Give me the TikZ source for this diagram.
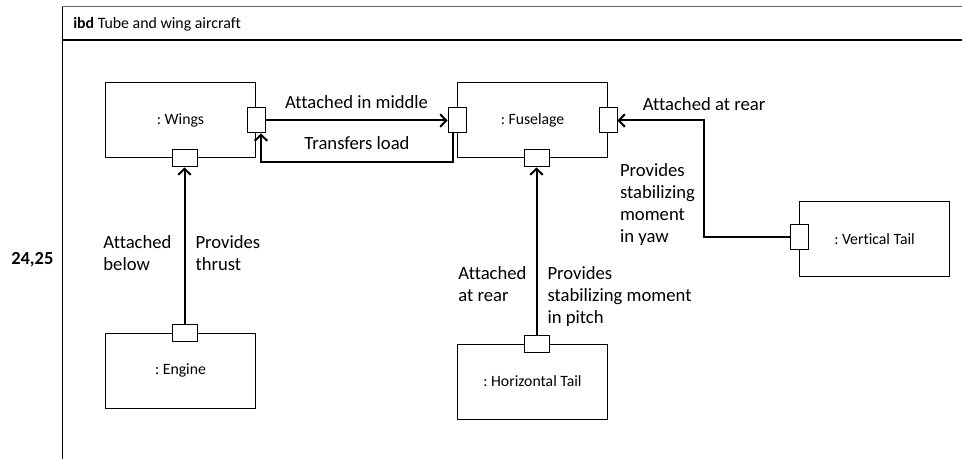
\documentclass[tikz,border=0pt]{standalone}
\usepackage{fontspec}
\setmainfont{Carlito}[Ligatures=NoCommon]
\usetikzlibrary{arrows.meta}
\usetikzlibrary{positioning}
\frenchspacing

\begin{document}
\begin{tikzpicture}[
  x=0.75pt,y=-0.75pt,
  part/.style={draw,line width=0.75pt,minimum width=112.5pt,minimum height=56.25pt,inner sep=0pt,font=\fontsize{11.8}{14}\selectfont},
  vport/.style={draw,fill=white,line width=0.75pt,minimum width=13.5pt,minimum height=18.75pt,inner sep=0pt},
  hport/.style={draw,fill=white,line width=0.75pt,minimum width=18.75pt,minimum height=12.75pt,inner sep=0pt},
  conn/.style={line width=1.5pt,-{Straight Barb[length=4.5pt,width=9.5pt]}},
  lbl/.style={font=\fontsize{14}{16.5}\selectfont,align=left,inner sep=0pt}]
\useasboundingbox (0,0) rectangle (962,459);
\draw[line width=0.75pt] (62,459) -- (62,7.5);
\draw[line width=0.75pt,black!60] (62,7) -- (962,7);
\draw[line width=1pt] (62,40) -- (962,40);
\node[anchor=west,inner sep=0pt,font=\fontsize{11.9}{14}\selectfont] (title) at (73,24) {\textbf{ibd} Tube and wing aircraft};
\node[anchor=west,inner sep=0pt,font=\fontsize{13.8}{16}\selectfont\bfseries] (sheet) at (11,260) {24,25};
\node[part] (wings) at (180.5,120.5) {: Wings};
\node[part,right=150.75pt of wings] (fuselage) {: Fuselage};
\node[part,below=130.5pt of wings] (engine) {: Engine};
\node[part,below=138.75pt of fuselage] (htail) {: Horizontal Tail};
\node[part,below right=32.25pt and 143.25pt of fuselage] (vtail) {: Vertical Tail};
\node[vport] (wr) at (wings.east) {};
\node[hport] (wb) at ([xshift=3pt]wings.south) {};
\node[vport] (fl) at (fuselage.west) {};
\node[vport] (fr) at (fuselage.east) {};
\node[hport] (fb) at ([xshift=3pt]fuselage.south) {};
\node[hport] (ep) at ([xshift=3pt]engine.north) {};
\node[hport] (hp) at ([xshift=3pt]htail.north) {};
\node[vport] (vp) at ([yshift=1.5pt]vtail.west) {};
\draw[conn] (wr) -- node[lbl,above=8pt] {Attached in middle} (fl);
\draw[conn] ([xshift=-3pt]fl.south) -- ++(0,29) -| node[lbl,pos=0.25,above=9pt] {Transfers load} ([xshift=3.75pt]wr.south);
\draw[conn] (ep) -- node[lbl,pos=0.57,anchor=north east,xshift=-9pt] {Attached\\below}
  node[lbl,pos=0.57,anchor=north west,xshift=7.5pt] {Provides\\thrust} (wb);
\draw[conn] (hp) -- node[lbl,pos=0.41,anchor=north east,xshift=-6.75pt] {Attached\\at rear}
  node[lbl,pos=0.41,anchor=north west,xshift=7.5pt] {Provides\\stabilizing moment\\in pitch} (fb);
\draw[conn] (vp) -- ++(-95,0) |- node[lbl,pos=0.32,anchor=north east,xshift=-6pt] {Provides\\stabilizing\\moment\\in yaw} (fr);
\node[lbl,anchor=south west] (rearlbl) at ([xshift=18.75pt,yshift=7.5pt]fr.east) {Attached at rear};
\end{tikzpicture}
\end{document}
